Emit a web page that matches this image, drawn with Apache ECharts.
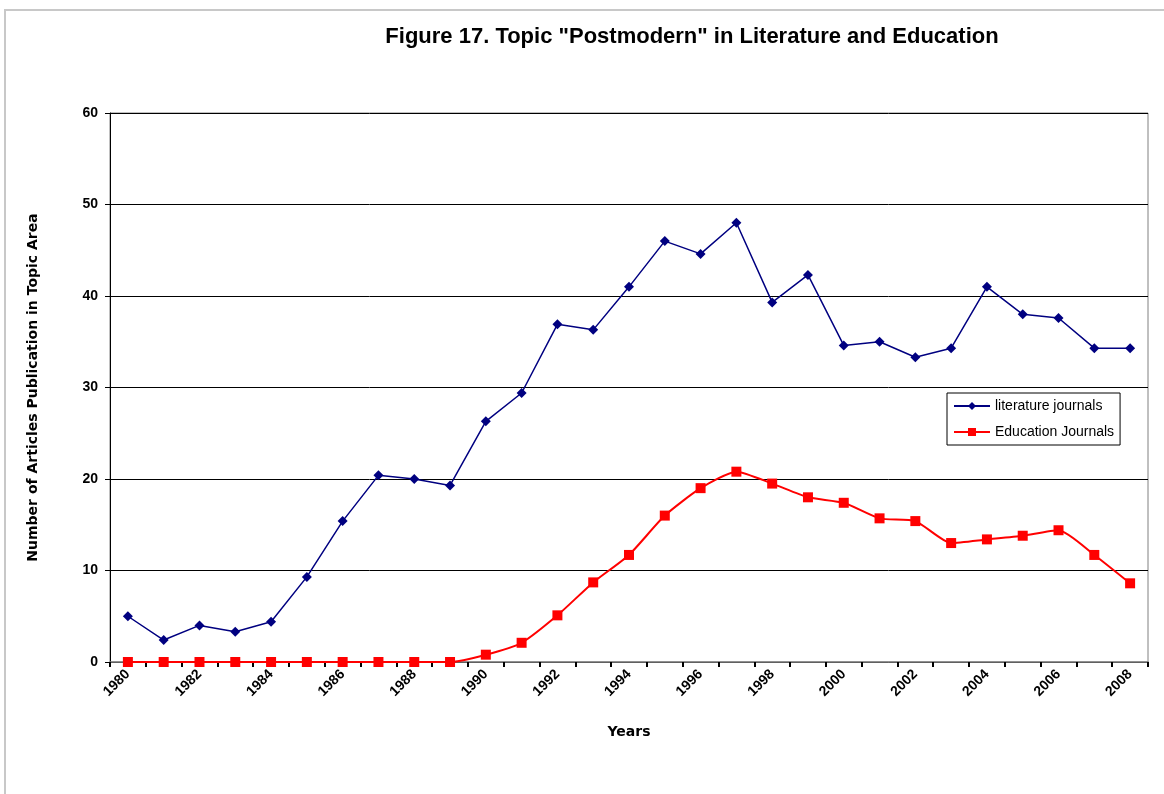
<!DOCTYPE html>
<html style="height: 100%">

<head>
	<meta charset="utf-8">
</head>

<body style="height: 100%; margin: 0; background: #fff">
	<div id="container" style="width: 1164px; height: 794px"></div>
	<script type="text/javascript" src="https://cdn.jsdelivr.net/npm/echarts@6/dist/echarts.min.js"></script>
	<script type="text/javascript">
		let years = [];
		for (let y = 1980; y <= 2008; y++) years.push(String(y));

		let literatureJournals = [5.0, 2.4, 4.0, 3.3, 4.4, 9.3, 15.4, 20.4, 20.0, 19.3,
			26.3, 29.4, 36.9, 36.3, 41.0, 46.0, 44.6, 48.0, 39.3, 42.3,
			34.6, 35.0, 33.3, 34.3, 41.0, 38.0, 37.6, 34.3, 34.3];
		let educationJournals = [0, 0, 0, 0, 0, 0, 0, 0, 0, 0,
			0.8, 2.1, 5.1, 8.7, 11.7, 16.0, 19.0, 20.8, 19.5, 18.0,
			17.4, 15.7, 15.4, 13.0, 13.4, 13.8, 14.4, 11.7, 8.6];

		let dom = document.getElementById("container");
		let myChart = echarts.init(dom);
		let font = '"Liberation Sans", Arial, sans-serif';
		let wideFont = '"DejaVu Sans", "Liberation Sans", sans-serif';

		let option = {
			animation: false,
			backgroundColor: '#fff',
			textStyle: { fontFamily: font },
			title: {
				text: 'Figure 17. Topic "Postmodern" in Literature and Education',
				left: 687,
				textAlign: 'center',
				top: 21,
				textStyle: { fontSize: 22, fontWeight: 'bold', color: '#000', fontFamily: font }
			},
			graphic: [
				{
					type: 'polyline',
					shape: { points: [[5, 794], [5, 10], [1164, 10]] },
					style: { stroke: '#c8c8c8', lineWidth: 2, fill: null },
					silent: true
				}
			],
			legend: {
				orient: 'vertical',
				left: 947,
				top: 393,
				backgroundColor: '#fff',
				borderColor: '#000',
				borderWidth: 1,
				borderRadius: 0,
				padding: [6, 6, 6, 6],
				itemGap: 12,
				itemWidth: 36,
				itemHeight: 10,
				textStyle: { fontSize: 14, color: '#000', fontFamily: font },
				data: ['literature journals', 'Education Journals']
			},
			grid: {
				left: 110,
				right: 16,
				top: 113,
				bottom: 132,
				show: true,
				borderColor: '#808080',
				borderWidth: 1,
				containLabel: false
			},
			xAxis: {
				type: 'category',
				data: years,
				boundaryGap: true,
				name: 'Years',
				nameLocation: 'middle',
				nameGap: 63,
				nameTextStyle: { fontSize: 14, fontWeight: 'bold', color: '#000', fontFamily: wideFont },
				axisLine: { lineStyle: { color: '#808080', width: 1.5 } },
				axisTick: { show: true, interval: 0, length: 5, lineStyle: { color: '#000', width: 2 } },
				axisLabel: {
					interval: 1,
					rotate: 45,
					fontSize: 14,
					fontWeight: 'bold',
					color: '#000',
					margin: 10,
					fontFamily: font
				},
				splitLine: { show: false }
			},
			yAxis: {
				type: 'value',
				min: 0,
				max: 60,
				interval: 10,
				name: 'Number of Articles Publication in Topic Area',
				nameLocation: 'middle',
				nameGap: 70,
				nameTextStyle: { fontSize: 14, fontWeight: 'bold', color: '#000', fontFamily: wideFont },
				axisLine: { show: true, lineStyle: { color: '#000', width: 1 } },
				axisTick: { show: true, length: 5, lineStyle: { color: '#000' } },
				axisLabel: { fontSize: 14, fontWeight: 'bold', color: '#000', margin: 12, fontFamily: font },
				splitLine: { show: true, lineStyle: { color: '#000', width: 1 } }
			},
			series: [
				{
					name: 'literature journals',
					type: 'line',
					data: literatureJournals,
					symbol: 'diamond',
					symbolSize: 10,
					itemStyle: { color: '#000080' },
					lineStyle: { color: '#000080', width: 1.5 }
				},
				{
					name: 'Education Journals',
					type: 'line',
					data: educationJournals,
					smooth: 0.2,
					symbol: 'rect',
					symbolSize: 10,
					itemStyle: { color: '#ff0000' },
					lineStyle: { color: '#ff0000', width: 2 }
				}
			]
		};

		myChart.setOption(option);
	</script>
</body>
</html>
